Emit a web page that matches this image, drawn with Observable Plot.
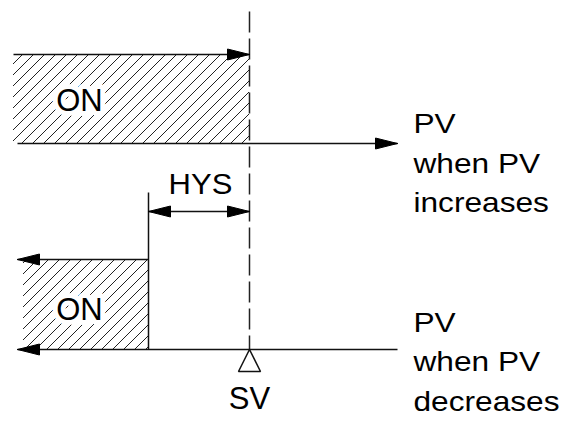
<!DOCTYPE html>
<html>
<head>
<meta charset="utf-8">
<script src="https://cdn.jsdelivr.net/npm/d3@7"></script>
<script src="https://cdn.jsdelivr.net/npm/@observablehq/plot@0.6"></script>
<style>
  html, body { margin: 0; padding: 0; background: white; }
</style>
</head>
<body>
<script>
// Diagram coordinates (PV along x, rows along y), in a 570 x 430 frame
const SV = 249;          // set value position on the PV axis
const HYS_LEFT = 148;    // SV - hysteresis

// hatched ON zones
const onZones = [
  {zone: "increasing", x1: 13, x2: SV, y1: 54, y2: 143},
  {zone: "decreasing", x1: 23, x2: HYS_LEFT, y1: 259, y2: 349}
];

// arrows: from (x1,y1) to (x2,y2); heads at "start"/"end"
const arrows = [
  {id: "on-up",    x1: 13,  y1: 54,  x2: SV,  y2: 54,  heads: ["end"]},
  {id: "pv-up",    x1: 17,  y1: 143, x2: 397, y2: 143, heads: ["end"]},
  {id: "hys",      x1: HYS_LEFT, y1: 211, x2: SV, y2: 211, heads: ["start", "end"]},
  {id: "on-down",  x1: HYS_LEFT, y1: 259, x2: 17, y2: 259, heads: ["end"]},
  {id: "pv-down",  x1: 397, y1: 349, x2: 17,  y2: 349, heads: ["end"]}
];

// plain segments
const segments = [
  {id: "hys-edge", x1: HYS_LEFT, y1: 192, x2: HYS_LEFT, y2: 349}
];

// dashed SV line
const svLine = [{x1: SV, y1: 11, x2: SV, y2: 349}];

// SV marker triangle
const svMarker = [
  {x: SV, y: 349}, {x: SV - 11, y: 371}, {x: SV + 11, y: 371}, {x: SV, y: 349}
];

// labels
const onLabels = [
  {text: "ON", x: 79, y: 110},
  {text: "ON", x: 79, y: 319}
];
const hysLabel = [{text: "HYS", x: 200, y: 193}];
const svLabel = [{text: "SV", x: SV, y: 408}];
const pvLabels = [
  {text: "PV", x: 413, y: 132},
  {text: "when PV", x: 413, y: 172},
  {text: "increases", x: 413, y: 211},
  {text: "PV", x: 413, y: 331},
  {text: "when PV", x: 413, y: 370},
  {text: "decreases", x: 413, y: 410}
];

// arrowhead polygons (geometry derived from arrow endpoints)
const HEAD_LEN = 22, HEAD_HALF = 5.5;
const heads = [];
for (const a of arrows) {
  for (const h of a.heads) {
    const [tx, ty, fx, fy] = h === "end" ? [a.x2, a.y2, a.x1, a.y1] : [a.x1, a.y1, a.x2, a.y2];
    const dx = fx - tx, dy = fy - ty, L = Math.hypot(dx, dy);
    const ux = dx / L, uy = dy / L;
    const bx = tx + ux * HEAD_LEN, by = ty + uy * HEAD_LEN;
    const id = a.id + "-" + h;
    heads.push({id, x: tx, y: ty});
    heads.push({id, x: bx - uy * HEAD_HALF, y: by + ux * HEAD_HALF});
    heads.push({id, x: bx + uy * HEAD_HALF, y: by - ux * HEAD_HALF});
    heads.push({id, x: tx, y: ty});
  }
}

const FONT = "Liberation Sans, Arial, Helvetica, sans-serif";

const chart = Plot.plot({
  width: 570,
  height: 430,
  margin: 0,
  x: {domain: [0, 570], range: [0, 570], axis: null},
  y: {domain: [0, 430], range: [0, 430], axis: null},
  style: {background: "white", fontFamily: FONT},
  marks: [
    Plot.rect(onZones, {x1: "x1", x2: "x2", y1: "y1", y2: "y2", fill: "url(#hatch)"}),
    Plot.link(svLine, {x1: "x1", y1: "y1", x2: "x2", y2: "y2", stroke: "#222", strokeWidth: 1.5, strokeDasharray: "21,6", strokeLinecap: "butt"}),
    Plot.link(segments, {x1: "x1", y1: "y1", x2: "x2", y2: "y2", stroke: "#111", strokeWidth: 1.5, strokeLinecap: "butt"}),
    Plot.link(arrows, {x1: "x1", y1: "y1", x2: "x2", y2: "y2", stroke: "#111", strokeWidth: 1.5, strokeLinecap: "butt"}),
    Plot.line(heads, {x: "x", y: "y", z: "id", fill: "black", stroke: "black", strokeWidth: 1, curve: "linear"}),
    Plot.line(svMarker, {x: "x", y: "y", fill: "white", stroke: "#111", strokeWidth: 1.5, strokeLinejoin: "miter"}),
    Plot.text(onLabels, {x: "x", y: "y", text: "text", fontSize: 31, lineAnchor: "bottom", textAnchor: "middle", fill: "black", stroke: "white", strokeWidth: 10, paintOrder: "stroke"}),
    Plot.text(hysLabel, {x: "x", y: "y", text: "text", fontSize: 29, lineAnchor: "bottom", textAnchor: "middle", fill: "black"}),
    Plot.text(svLabel, {x: "x", y: "y", text: "text", fontSize: 31, lineAnchor: "bottom", textAnchor: "middle", fill: "black"}),
    Plot.text(pvLabels, {x: "x", y: "y", text: "text", fontSize: 28, lineAnchor: "bottom", textAnchor: "start", fill: "black"})
  ]
});

// hatch pattern
const svgNode = chart.tagName.toLowerCase() === "svg" ? chart : chart.querySelector("svg");
const svg = d3.select(svgNode);
const pat = svg.insert("defs", ":first-child")
  .append("pattern")
  .attr("id", "hatch")
  .attr("patternUnits", "userSpaceOnUse")
  .attr("width", 11)
  .attr("height", 11);
pat.append("rect").attr("width", 11).attr("height", 11).attr("fill", "white");
pat.append("path")
  .attr("d", "M0,11L11,0M-2,2L2,-2M9,13L13,9")
  .attr("stroke", "#222")
  .attr("stroke-width", 1)
  .attr("fill", "none");

document.body.append(chart);

// the reference lettering is slightly wider than Liberation Sans
const widen = new Map([
  ...pvLabels.map(d => [d.text, 1.13]),
  ...hysLabel.map(d => [d.text, 1.07])
]);
svg.selectAll("text").each(function () {
  const k = widen.get(this.textContent);
  if (!k) return;
  const w = this.getComputedTextLength();
  this.setAttribute("textLength", (w * k).toFixed(1));
  this.setAttribute("lengthAdjust", "spacingAndGlyphs");
});
</script>
</body>
</html>
